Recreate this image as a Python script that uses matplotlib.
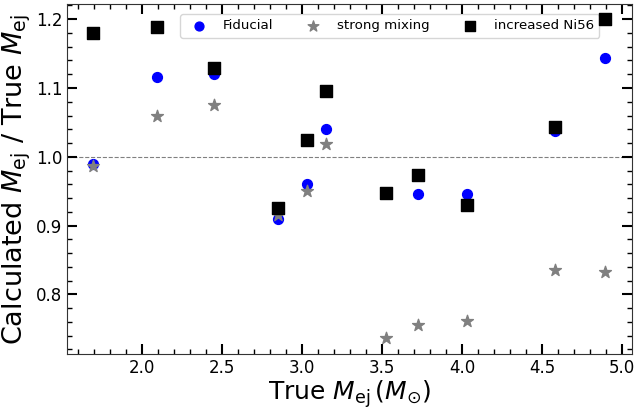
import numpy as np
import matplotlib
matplotlib.use('Agg')
from matplotlib import pyplot as plt
from matplotlib.ticker import AutoMinorLocator

# true ejecta masses
true_mej = [1.69, 2.09, 2.45, 2.85, 3.03, 3.15, 3.52, 3.72, 4.03, 4.58, 4.89]

# calculated / true ratios
fiducial = [0.990, 1.116, 1.121, 0.909, 0.960, 1.040, 0.948, 0.946, 0.946, 1.037, 1.143]
strong_mixing = [0.986, 1.059, 1.076, 0.915, 0.950, 1.018, 0.736, 0.756, 0.761, 0.835, 0.833]
increased_ni56 = [1.180, 1.188, 1.129, 0.926, 1.024, 1.095, 0.947, 0.973, 0.930, 1.044, 1.200]

fig = plt.figure(figsize=(6.39, 4.09), dpi=100)
ax = fig.add_axes([0.105, 0.134, 0.884, 0.856])

ax.axhline(1.0, color='gray', ls='--', lw=0.8, zorder=0)
ax.scatter(true_mej, fiducial, s=50, marker='o', color='blue', label='Fiducial', zorder=2)
ax.scatter(true_mej, strong_mixing, s=80, marker='*', color='gray', label='strong mixing', zorder=2)
ax.scatter(true_mej, increased_ni56, s=70, marker='s', color='black', label='increased Ni56', zorder=3)

ax.set_xlim(1.53, 5.06)
ax.set_ylim(0.713, 1.222)
ax.set_xticks([2.0, 2.5, 3.0, 3.5, 4.0, 4.5, 5.0])
ax.set_yticks([0.8, 0.9, 1.0, 1.1, 1.2])
ax.xaxis.set_minor_locator(AutoMinorLocator(5))
ax.yaxis.set_minor_locator(AutoMinorLocator(5))
ax.tick_params(which='both', direction='in', top=True, right=True, labelsize=12)
ax.tick_params(which='major', length=7, width=1.5)
ax.tick_params(which='minor', length=3.5, width=1)
for sp in ax.spines.values():
    sp.set_color('#333333')

ax.set_xlabel(r'True $M_{\rm ej}\,(M_{\odot})$', fontsize=18, labelpad=1)
ax.set_ylabel(r'Calculated $M_{\rm ej}$ / True $M_{\rm ej}$', fontsize=19.5, labelpad=2)

leg = ax.legend(loc='upper left', ncol=3, fontsize=9.6, bbox_to_anchor=(0.2, 0.972),
                borderaxespad=0, markerscale=0.9)
leg.set_zorder(1)

plt.savefig('out.png', dpi=100)
